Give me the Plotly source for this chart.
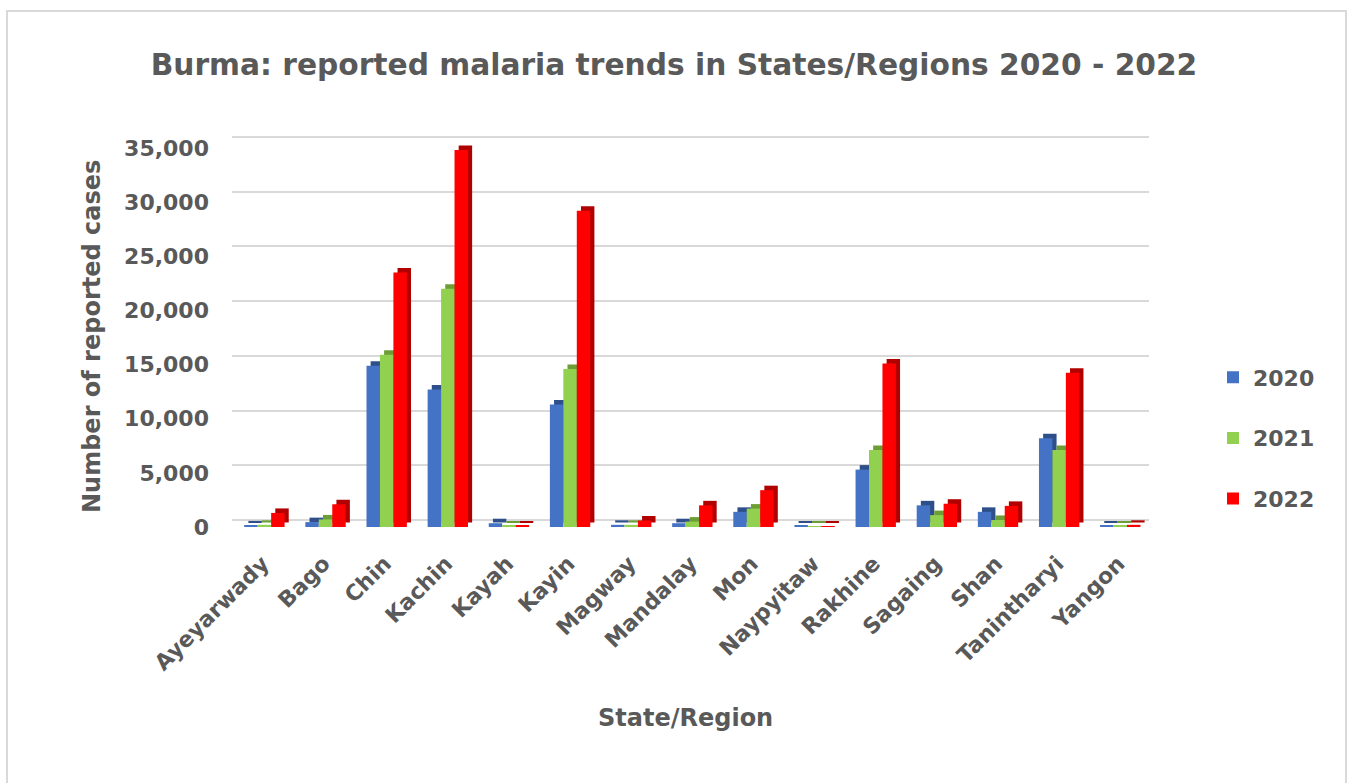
import plotly.graph_objects as go

# Reported malaria cases by State/Region
regions = ["Ayeyarwady", "Bago", "Chin", "Kachin", "Kayah", "Kayin", "Magway",
           "Mandalay", "Mon", "Naypyitaw", "Rakhine", "Sagaing", "Shan",
           "Tanintharyi", "Yangon"]
cases_2020 = [150, 450, 14900, 12700, 350, 11300, 200, 350, 1400, 120, 5300, 2000, 1400, 8200, 120]
cases_2021 = [200, 700, 15900, 22000, 120, 14600, 200, 500, 1700, 60, 7100, 1100, 650, 7100, 120]
cases_2022 = [1300, 2100, 23500, 34800, 100, 29200, 600, 2000, 3400, 60, 15100, 2150, 1950, 14250, 200]
years = ["2020", "2021", "2022"]
y_ticks = [0, 5000, 10000, 15000, 20000, 25000, 30000, 35000]

series = [cases_2020, cases_2021, cases_2022]
face_colors = ["#4472C4", "#92D050", "#FF0000"]
side_colors = ["#2E4F8A", "#6C9E35", "#B00000"]

TEXT = "#595959"
FONT = "DejaVu Sans"

# plot-area geometry (pixels)
W, H = 1348, 783
L, R, T, B = 232, 1149, 130, 527
px_per_1000 = 10.83

bar_w = 0.22
offsets = [-0.30, -0.08, 0.14]
depth_x = 0.068          # side-face depth in category units
depth_y = 4.5 / px_per_1000 * 1000   # top-face lift in data units

fig = go.Figure()

# darker "depth" faces drawn first, then the front faces
for vals, off, col in zip(series, offsets, side_colors):
    fig.add_trace(go.Bar(
        x=regions, y=vals, base=depth_y, offset=off + depth_x, width=bar_w,
        marker=dict(color=col, line=dict(width=0)),
        showlegend=False, hoverinfo="skip",
    ))

for vals, off, col, name in zip(series, offsets, face_colors, years):
    fig.add_trace(go.Bar(
        x=regions, y=vals, offset=off, width=bar_w, name=name,
        legendgroup=name,
        marker=dict(color=col, line=dict(width=0)),
    ))

# carrier trace for the back-wall grid axis
fig.add_trace(go.Scatter(x=[regions[0]], y=[0], yaxis="y2", mode="markers",
                         marker=dict(opacity=0), showlegend=False, hoverinfo="skip"))

y_top = (B - T) / px_per_1000 * 1000
grid_px = (520 - 137) / 35.0
g_lo = -(B - 520) / grid_px * 1000
g_hi = (520 - T) / grid_px * 1000


def bold(size):
    return dict(size=size, color=TEXT, family=FONT, weight="bold")


fig.update_layout(
    width=W, height=H,
    margin=dict(l=L, r=W - R, t=T, b=H - B),
    paper_bgcolor="white", plot_bgcolor="white",
    barmode="overlay",
    font=dict(family=FONT, color=TEXT),
    title=dict(
        text="Burma: reported malaria trends in States/Regions 2020 - 2022",
        x=0.5, xanchor="center", y=1 - 65 / H, yanchor="middle",
        font=bold(29.7),
    ),
    xaxis=dict(
        type="category", range=[-0.5, len(regions) - 0.5],
        showgrid=False, zeroline=False, showline=False,
        tickangle=-45, ticks="outside", ticklen=14, tickcolor="rgba(0,0,0,0)",
        tickfont=bold(22),
    ),
    yaxis=dict(
        range=[0, y_top], tickvals=y_ticks, tickformat=",",
        showgrid=False, zeroline=False, showline=False,
        ticklabelstandoff=22,
        tickfont=bold(22),
    ),
    yaxis2=dict(
        overlaying="y", side="left", range=[g_lo, g_hi], tickvals=y_ticks,
        showticklabels=False, showgrid=True, gridcolor="#D9D9D9", gridwidth=2,
        zeroline=False, showline=False,
    ),
    legend=dict(
        x=(1213 - L) / (R - L), xanchor="left",
        y=(B - 438) / (B - T), yanchor="middle",
        font=bold(22),
        tracegroupgap=29, traceorder="grouped",
        bgcolor="rgba(0,0,0,0)",
    ),
    annotations=[
        dict(text="Number of reported cases", textangle=-90,
             xref="paper", yref="paper", x=0, xshift=92 - L, xanchor="center",
             y=(B - 337) / (B - T), yanchor="middle", showarrow=False,
             font=bold(24)),
        dict(text="State/Region",
             xref="paper", yref="paper", x=(685 - L) / (R - L), xanchor="center",
             y=-(718 - B) / (B - T), yanchor="middle", showarrow=False,
             font=bold(24)),
    ],
    shapes=[
        dict(type="rect", xref="paper", yref="paper",
             x0=(7 - L) / (R - L), x1=(1346 - L) / (R - L),
             y0=(B - 800) / (B - T), y1=(B - 11) / (B - T),
             line=dict(color="#D9D9D9", width=2), fillcolor="rgba(0,0,0,0)",
             layer="below"),
    ],
)

fig.write_html("out.html")
